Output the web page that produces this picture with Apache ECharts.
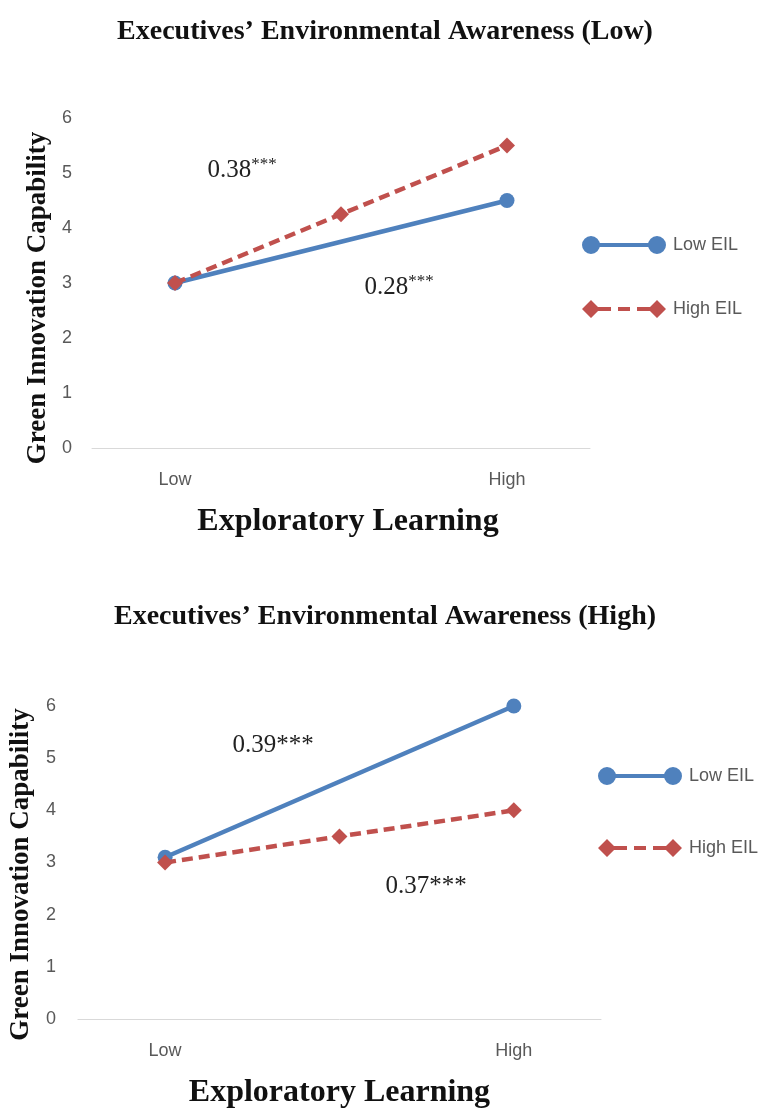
<!DOCTYPE html>
<html><head><meta charset="utf-8">
<script src="https://cdn.jsdelivr.net/npm/echarts@6/dist/echarts.min.js"></script>
<style>html,body{margin:0;padding:0;background:#fff}#main{width:770px;height:1110px}</style>
</head><body><div id="main"></div>
<script>
// ---- data ----
const categories = ['Low', '', 'High'];
const yTickMin = 0, yTickMax = 6, yTickStep = 1;
const seriesNames = ['Low EIL', 'High EIL'];
const panelTitles = ["Executives\u2019 Environmental Awareness (Low)", "Executives\u2019 Environmental Awareness (High)"];
const xAxisTitle = 'Exploratory Learning';
const yAxisTitle = 'Green Innovation Capability';
const lowAwarenessLowEIL = [3.0, null, 4.5];
const lowAwarenessHighEIL = [3.0, 4.25, 5.5];
const highAwarenessLowEIL = [3.1, null, 6.0];
const highAwarenessHighEIL = [3.0, 3.5, 4.0];
const slopeLabelsLow = ['0.38', '0.28'];
const slopeLabelsHigh = ['0.39***', '0.37***'];

// ---- styles ----
const BLUE = '#4F81BD', RED = '#C0504D';
const SERIF = '"Liberation Serif", "DejaVu Serif", serif';
const SANS = '"Liberation Sans", "Open Sans", sans-serif';
const circleIcon = 'path://M0,9 A9,9 0 1,1 18,9 A9,9 0 1,1 0,9 Z M66,9 A9,9 0 1,1 84,9 A9,9 0 1,1 66,9 Z M16,7 L68,7 L68,11 L16,11 Z';
const diamondIcon = 'path://M0,9 L9,0 L18,9 L9,18 Z M66,9 L75,0 L84,9 L75,18 Z M15,7 L29,7 L29,11 L15,11 Z M36,7 L48,7 L48,11 L36,11 Z M55,7 L69,7 L69,11 L55,11 Z';

const grids = [
  {left: 92, width: 498, top: 118, height: 330},
  {left: 75, width: 526, top: 706, height: 314}
];

function xAxis(i, pad) {
  return {
    type: 'category', gridIndex: i, data: categories, boundaryGap: true,
    axisLine: {show: true, lineStyle: {color: '#d9d9d9', width: 1}},
    axisTick: {show: false},
    axisLabel: {color: '#595959', fontSize: 18, fontFamily: SANS, margin: 23, interval: 0},
    name: xAxisTitle, nameLocation: 'middle', nameGap: 58,
    nameTextStyle: {fontSize: 32, fontWeight: 'bold', fontFamily: SERIF, color: '#111', padding: pad}
  };
}
function yAxis(i, gap, margin, pad) {
  return {
    type: 'value', gridIndex: i, min: yTickMin, max: yTickMax, interval: yTickStep,
    axisLine: {show: false}, axisTick: {show: false}, splitLine: {show: false},
    axisLabel: {color: '#595959', fontSize: 18, fontFamily: SANS, margin: margin},
    name: yAxisTitle, nameLocation: 'middle', nameGap: gap, nameRotate: 90,
    nameTextStyle: {fontSize: 27, fontWeight: 'bold', fontFamily: SERIF, color: '#111', padding: pad}
  };
}
function lowSeries(i, data) {
  return {
    name: seriesNames[0], type: 'line', xAxisIndex: i, yAxisIndex: i, data: data,
    connectNulls: true, symbol: 'circle', symbolSize: 15, showSymbol: true,
    lineStyle: {color: BLUE, width: 4.5}, itemStyle: {color: BLUE}, z: 2
  };
}
function highSeries(i, data) {
  return {
    name: seriesNames[1], type: 'line', xAxisIndex: i, yAxisIndex: i, data: data,
    connectNulls: true, symbol: 'diamond', symbolSize: 16, showSymbol: true,
    lineStyle: {color: RED, width: 4.5, type: [11, 6]}, itemStyle: {color: RED}, z: 3
  };
}
function legend(left, top, gap) {
  return {
    left: left, top: top, orient: 'vertical', itemWidth: 84, itemHeight: 18, itemGap: gap,
    selectedMode: false,
    textStyle: {fontSize: 18, color: '#595959', fontFamily: SANS, padding: [0, 0, 0, 2]},
    data: [
      {name: seriesNames[0], icon: circleIcon, itemStyle: {color: BLUE, borderWidth: 0}},
      {name: seriesNames[1], icon: diamondIcon, itemStyle: {color: RED, borderWidth: 0}}
    ]
  };
}
function note(x, y, main, small) {
  return {
    type: 'text', x: x, y: y, z: 10,
    style: {
      text: small ? main + '{s|***}' : main,
      font: '25px ' + SERIF, fill: '#222', align: 'center', verticalAlign: 'middle',
      rich: {s: {fontSize: 17, fontFamily: SERIF, fill: '#222', verticalAlign: 'top', padding: [0, 0, 10, 0]}}
    }
  };
}

const chart = echarts.init(document.getElementById('main'), null, {renderer: 'canvas'});
chart.setOption({
  animation: false,
  backgroundColor: '#fff',
  title: [
    {text: panelTitles[0], left: 'center', top: 13, textStyle: {fontSize: 28, fontWeight: 'bold', fontFamily: SERIF, color: '#111'}},
    {text: panelTitles[1], left: 'center', top: 598, textStyle: {fontSize: 28, fontWeight: 'bold', fontFamily: SERIF, color: '#111'}}
  ],
  grid: grids,
  xAxis: [xAxis(0, [0, 0, 0, 14]), xAxis(1, [0, 0, 0, 0])],
  yAxis: [yAxis(0, 40, 20, [0, 30, 0, 0]), yAxis(1, 38, 22, [0, 24, 0, 0])],
  legend: [legend(577, 231, 46), legend(593, 762, 54)],
  series: [
    lowSeries(0, lowAwarenessLowEIL), highSeries(0, lowAwarenessHighEIL),
    lowSeries(1, highAwarenessLowEIL), highSeries(1, highAwarenessHighEIL)
  ],
  graphic: [
    note(242, 170, slopeLabelsLow[0], true),
    note(399, 287, slopeLabelsLow[1], true),
    note(273, 745, slopeLabelsHigh[0], false),
    note(426, 886, slopeLabelsHigh[1], false)
  ]
});
</script></body></html>
